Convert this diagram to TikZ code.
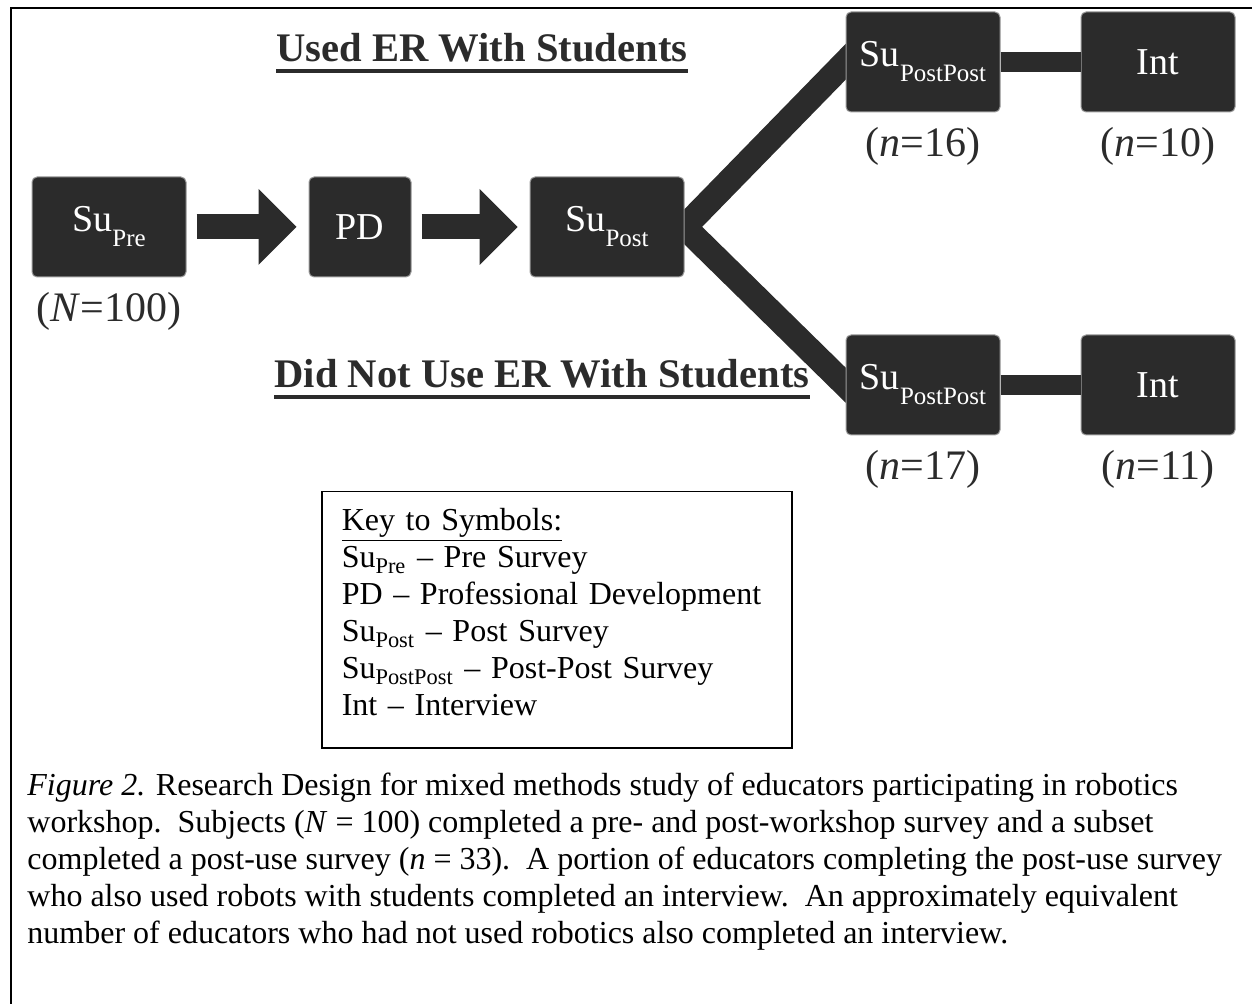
\documentclass[tikz,border=0pt]{standalone}
\usepackage{fontspec}
\setmainfont{Liberation Serif}
\usetikzlibrary{arrows.meta,positioning,backgrounds}
\definecolor{boxfill}{HTML}{2B2B2B}
\definecolor{boxedge}{HTML}{9A9A9A}
\newcommand{\lowsub}[1]{\raisebox{-7.5pt}{\fontsize{12.5}{12.5}\selectfont #1}}
\tikzset{
  stage/.style={draw=boxedge,fill=boxfill,rounded corners=2.5pt,line width=0.5pt,
    minimum width=77pt,minimum height=50pt,inner sep=0pt,
    font=\fontsize{19}{19}\selectfont,text=white,align=center},
  stage_sm/.style={stage,minimum width=51pt},
  block_arr/.style={-{Triangle[length=19pt,width=38pt,line width=0pt]},draw=boxfill,
    line width=12.5pt,shorten <=5pt,shorten >=6pt},
  branch/.style={draw=boxfill,line width=12.5pt,line join=miter},
  link/.style={draw=boxfill,line width=10pt},
  count_lbl/.style={font=\fontsize{21}{21}\selectfont,text=boxfill,anchor=base,inner sep=0pt},
  group_lbl/.style={font=\bfseries\fontsize{20.3}{20.3}\selectfont,text=boxfill,anchor=base west,inner sep=0pt},
  uline/.style={draw=boxfill,line width=2pt},
  body_txt/.style={font=\fontsize{16}{18.5}\selectfont},
}
\begin{document}
\begin{tikzpicture}[x=0.5pt,y=-0.5pt,node distance=60pt]
  \useasboundingbox (0,0) rectangle (1252,1004);
  \draw[line width=1pt] (11,1004) -- (11,8) -- (1252,8);

  % survey chain
  \node[stage] (supre) at (109,227) {Su\lowsub{Pre}};
  \node[stage_sm,right=61pt of supre] (pd) {PD};
  \node[stage,right=59pt of pd] (supost) {Su\lowsub{Post}};
  \draw[block_arr] (supre) -- (pd);
  \draw[block_arr] (pd) -- (supost);

  % two groups
  \node[stage] (pp_used) at (923,62) {Su\lowsub{PostPost}};
  \node[stage,right=40pt of pp_used] (int_used) {Int};
  \node[stage] (pp_not) at (923,385) {Su\lowsub{PostPost}};
  \node[stage,right=40pt of pp_not] (int_not) {Int};
  \draw[link] (pp_used) -- (int_used);
  \draw[link] (pp_not) -- (int_not);
  \begin{scope}[on background layer]
    \draw[branch,shorten <=-15pt,shorten >=-15pt] (pp_used.west) -- (supost.east) -- (pp_not.west);
  \end{scope}

  % counts
  \node[count_lbl] (n_pre) at ([yshift=-22pt]supre.south) {(\textit{N}=100)};
  \node[count_lbl] (n_pp_used) at ([yshift=-22pt]pp_used.south) {(\textit{n}=16)};
  \node[count_lbl] (n_int_used) at ([yshift=-22pt]int_used.south) {(\textit{n}=10)};
  \node[count_lbl] (n_pp_not) at ([yshift=-22pt]pp_not.south) {(\textit{n}=17)};
  \node[count_lbl] (n_int_not) at ([yshift=-22pt]int_not.south) {(\textit{n}=11)};

  % group headings
  \node[group_lbl] (hd_used) at (276,62) {Used ER With Students};
  \node[group_lbl] (hd_not) at (274,388) {Did Not Use ER With Students};
  \draw[uline] ([yshift=-4.5pt]hd_used.base west) -- ([yshift=-4.5pt]hd_used.base east);
  \draw[uline] ([yshift=-4.5pt]hd_not.base west) -- ([yshift=-4.5pt]hd_not.base east);

  % key
  \node[body_txt,draw=black,line width=0.75pt,anchor=north west,inner xsep=10pt,inner ysep=8.5pt,
    text width=215pt,align=left] (key) at (321,491) {\underline{Key to Symbols:}\\
    Su\textsubscript{Pre} \textendash{} Pre Survey\\
    PD \textendash{} Professional Development\\
    Su\textsubscript{Post} \textendash{} Post Survey\\
    Su\textsubscript{PostPost} \textendash{} Post-Post Survey\\
    Int \textendash{} Interview\rule[-7.5pt]{0pt}{7.5pt}};

  % caption
  \node[body_txt,anchor=north west,inner sep=0pt,align=left] (caption) at (27,773) {\textit{Figure 2.} Research Design for mixed methods study of educators participating in robotics\\
    workshop.\ \ Subjects (\textit{N} = 100) completed a pre- and post-workshop survey and a subset\\
    completed a post-use survey (\textit{n} = 33).\ \ A portion of educators completing the post-use survey\\
    who also used robots with students completed an interview.\ \ An approximately equivalent\\
    number of educators who had not used robotics also completed an interview.};
\end{tikzpicture}
\end{document}
